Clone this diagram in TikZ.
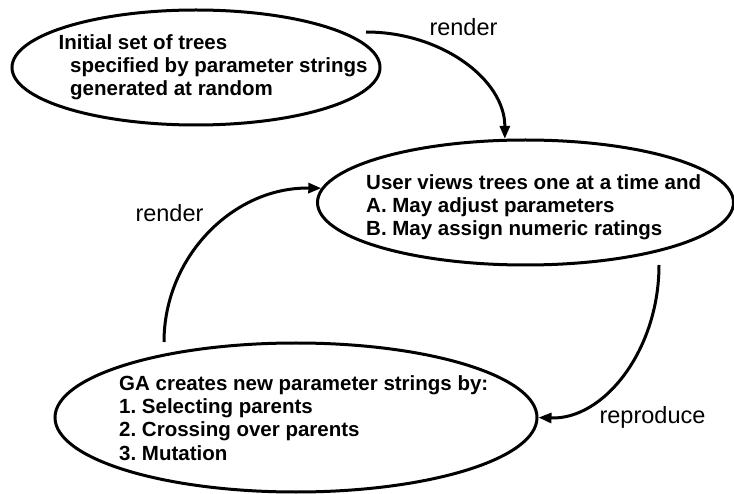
\documentclass[tikz,border=0pt]{standalone}
\usepackage{fontspec}
\setmainfont{Liberation Sans}
\usetikzlibrary{shapes,arrows.meta,positioning}
\frenchspacing

\begin{document}
\begin{tikzpicture}[x=1pt, y=-1pt,
    oval/.style={draw, ellipse, line width=3pt, inner sep=0pt},
    txt/.style={font=\fontsize{20.5}{23.3}\selectfont\bfseries, align=left, anchor=base west, inner sep=0pt},
    lbl/.style={font=\fontsize{23.5}{26}\selectfont, anchor=base, inner sep=0pt},
    arrow/.style={-{Triangle[length=13pt,width=10pt]}, line width=3pt}
]
    \useasboundingbox (0,0) rectangle (734,494);

    \node[oval, minimum width=368pt, minimum height=115pt] (init) at (196,67.5) {};
    \node[oval, minimum width=416pt, minimum height=125pt] (user) at (525.5,202.5) {};
    \node[oval, minimum width=482pt, minimum height=149pt] (ga) at (296,417.5) {};

    % base anchor sits on the last line
    \node[txt] (initText) at (58.5,95.7) {Initial set of trees\\\hspace*{11.5pt}specified by parameter strings\\\hspace*{11.5pt}generated at random};
    \node[txt] (userText) at (366,235.7) {User views trees one at a time and\\A. May adjust parameters\\B. May assign numeric ratings};
    \node[txt] (gaText) at (119,460) {GA creates new parameter strings by:\\1. Selecting parents\\2. Crossing over parents\\3. Mutation};

    \coordinate (renderTop) at (366,32);
    \coordinate (renderLeft) at (164,342);
    \coordinate (reproStart) at (659,265);

    \draw[arrow] (renderTop) .. controls (442,32) and (505,80) .. (user.108);
    \draw[arrow] (renderLeft) .. controls (164,257) and (233,187) .. (user.176);
    \draw[arrow] (reproStart) .. controls (659,350) and (604,420) .. (ga.east);

    \node[lbl] (renderTopLbl) at (463.5,36) {render};
    \node[lbl] (renderLeftLbl) at (169.5,222) {render};
    \node[lbl] (reproLbl) at (652.5,423) {reproduce};
\end{tikzpicture}
\end{document}
